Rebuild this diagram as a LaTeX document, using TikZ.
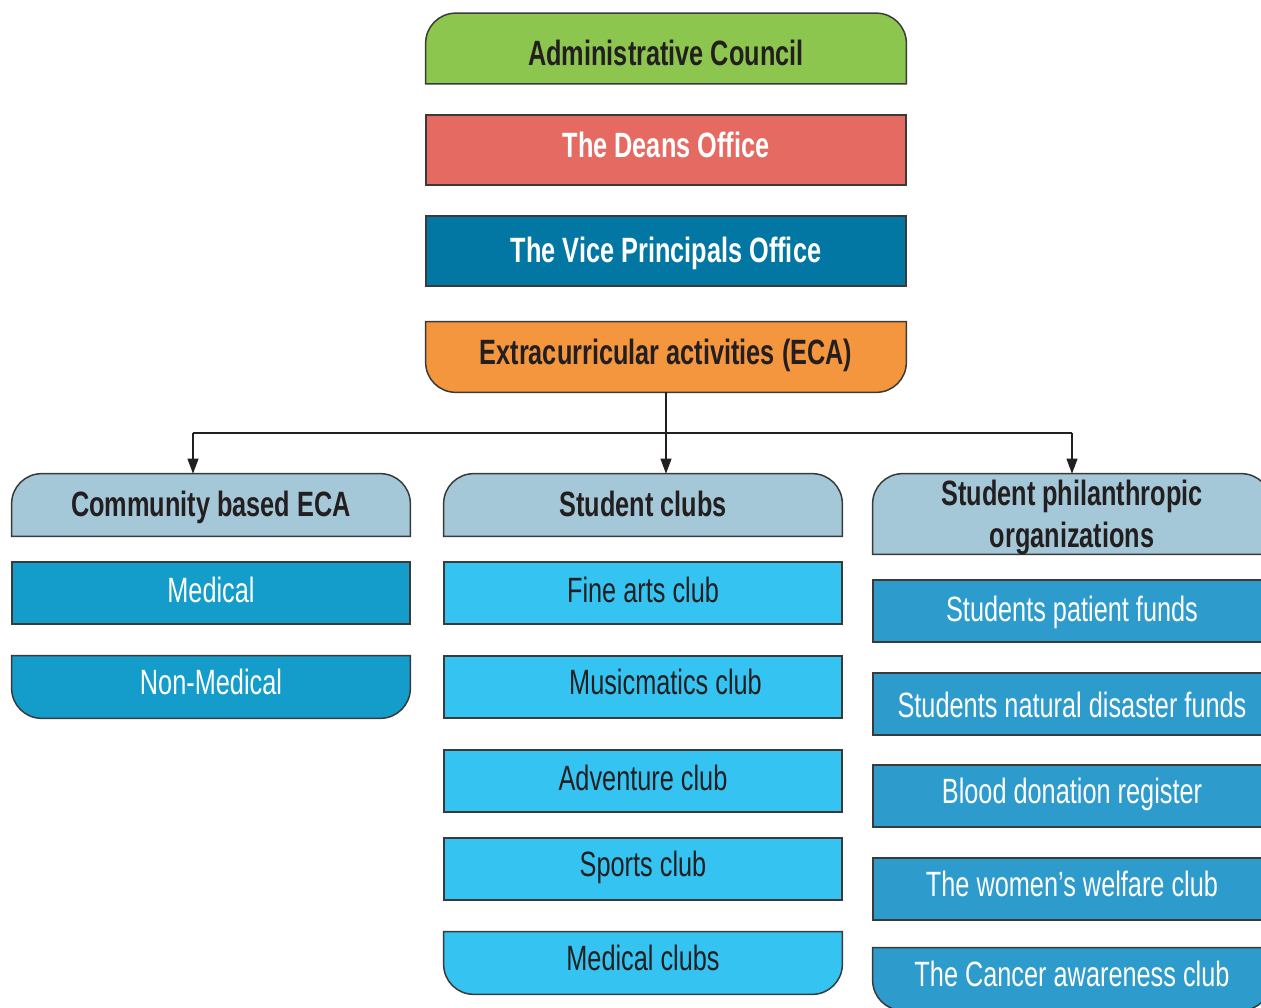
\documentclass[tikz,border=0pt]{standalone}
\usepackage{fontspec}
\setmainfont{Liberation Sans}[FakeStretch=0.72]
\usetikzlibrary{arrows.meta,backgrounds}

\definecolor{edge}{HTML}{3A3A3A}
\definecolor{ink}{HTML}{231F20}
\definecolor{councilgreen}{HTML}{8DC64F}
\definecolor{deanred}{HTML}{E56A62}
\definecolor{viceblue}{HTML}{0277A3}
\definecolor{ecaorange}{HTML}{F4963E}
\definecolor{headblue}{HTML}{A4C8D8}
\definecolor{commblue}{HTML}{149CCB}
\definecolor{clubblue}{HTML}{35C4F1}
\definecolor{philblue}{HTML}{2D9BCC}

% boxes with two rounded corners
\newcommand{\toprnd}[2]{%
  \draw[line width=0.85pt, draw=edge, fill=#2] (#1.south west) -- ([yshift=-6mm]#1.north west)
    arc[start angle=180, end angle=90, radius=6mm] -- ([xshift=-6mm]#1.north east)
    arc[start angle=90, end angle=0, radius=6mm] -- (#1.south east) -- cycle;}
\newcommand{\botrnd}[2]{%
  \draw[line width=0.85pt, draw=edge, fill=#2] (#1.north west) -- ([yshift=6mm]#1.south west)
    arc[start angle=180, end angle=270, radius=6mm] -- ([xshift=-6mm]#1.south east)
    arc[start angle=270, end angle=360, radius=6mm] -- (#1.north east) -- cycle;}

\begin{document}
\begin{tikzpicture}[
    box/.style={minimum width=7.96cm, minimum height=1.24cm, inner sep=0pt, align=center,
                font=\fontsize{20}{24}\selectfont, text height=2.0ex, text depth=0.35ex},
    sharp/.style={box, draw=edge, line width=0.85pt},
    wide/.style={minimum width=9.6cm, minimum height=1.4cm},
    head/.style={box, font=\fontsize{20}{24}\selectfont\bfseries, text=ink},
    low/.style={text height=#1},
    line/.style={draw=ink, line width=0.6pt},
    arr/.style={line, -{Triangle[length=3mm, width=2.2mm]}}
  ]
  \useasboundingbox (0,0) rectangle (25.22,-20.16);

  % top chain
  \node[head, wide, low=4.0ex] (adm) at (13.32,-0.97) {Administrative Council};
  \node[sharp, wide, fill=deanred, text=white, font=\fontsize{20}{24}\selectfont\bfseries] (dean) at (13.32,-3.00) {The Deans Office};
  \node[sharp, wide, fill=viceblue, text=white, font=\fontsize{20}{24}\selectfont\bfseries, low=2.8ex] (vice) at (13.32,-5.02) {The Vice Principals Office};
  \node[head, wide] (eca) at (13.32,-7.14) {Extracurricular activities (ECA)};

  % headers
  \node[head, low=2.9ex] (cb) at (4.22,-10.10) {Community based ECA};
  \node[head, low=2.9ex] (sc) at (12.86,-10.10) {Student clubs};
  \node[head, minimum height=1.6cm, inner ysep=-1.3pt, text height=, text depth=] (sp) at (21.44,-10.28)
    {\raisebox{-2.5pt}[\height][\depth]{\begin{tabular}{@{}c@{}}Student philanthropic\\organizations\end{tabular}}};

  % community based
  \node[sharp, fill=commblue, text=white, low=2.3ex] (med) at (4.22,-11.86) {Medical};
  \node[box, text=white] (nonmed) at (4.22,-13.74) {Non-Medical};

  % student clubs
  \node[sharp, fill=clubblue, text=ink, low=2.3ex] (fine) at (12.86,-11.86) {Fine arts club};
  \node[sharp, fill=clubblue, text=ink] (music) at (12.86,-13.74) {\hspace*{0.9cm}Musicmatics club};
  \node[sharp, fill=clubblue, text=ink, low=2.5ex] (adv) at (12.86,-15.62) {Adventure club};
  \node[sharp, fill=clubblue, text=ink] (sport) at (12.86,-17.38) {Sports club};
  \node[box, text=ink] (medclub) at (12.86,-19.26) {Medical clubs};

  % philanthropic
  \node[sharp, fill=philblue, text=white, low=2.6ex] (patient) at (21.44,-12.22) {Students patient funds};
  \node[sharp, fill=philblue, text=white, low=3.35ex] (disaster) at (21.44,-14.08) {Students natural disaster funds};
  \node[sharp, fill=philblue, text=white] (blood) at (21.44,-15.92) {Blood donation register};
  \node[sharp, fill=philblue, text=white] (women) at (21.44,-17.78) {The women’s welfare club};
  \node[box, text=white] (cancer) at (21.44,-19.58) {The Cancer awareness club};

  \begin{pgfonlayer}{background}
    \toprnd{adm}{councilgreen}
    \botrnd{eca}{ecaorange}
    \toprnd{cb}{headblue}
    \toprnd{sc}{headblue}
    \toprnd{sp}{headblue}
    \botrnd{nonmed}{commblue}
    \botrnd{medclub}{clubblue}
    \botrnd{cancer}{philblue}
  \end{pgfonlayer}

  % connectors
  \coordinate (hub) at (13.32,-8.66);
  \coordinate (jl) at (3.86,-8.66);
  \draw[line] (eca.south) -- (hub);
  \draw[line] (jl) -- (sp.north |- hub);
  \draw[arr] (jl) -- (jl |- cb.north);
  \draw[arr] (hub) -- (hub |- sc.north);
  \draw[arr] (sp.north |- hub) -- (sp.north);
\end{tikzpicture}
\end{document}
